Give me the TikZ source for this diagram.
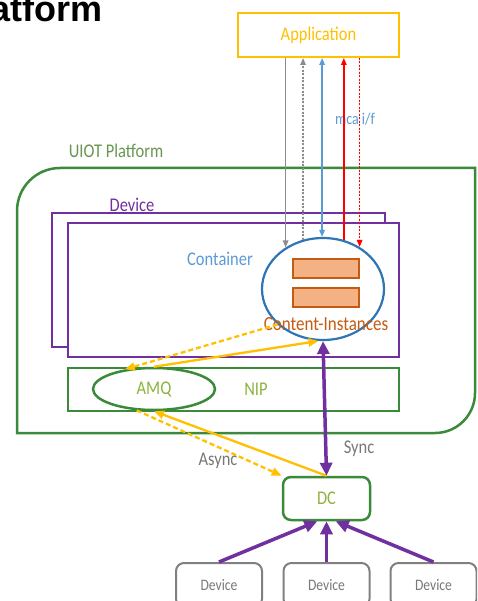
\documentclass[tikz,border=0pt]{standalone}
\usepackage{fontspec}
\setmainfont{Carlito}[FakeStretch=0.85]
\newfontfamily\titlefont{Liberation Sans}
\usetikzlibrary{shapes.geometric,arrows.meta}

\definecolor{appyellow}{RGB}{255,192,0}
\definecolor{platgreen}{RGB}{58,138,58}
\definecolor{labgreen}{RGB}{104,150,80}
\definecolor{txtgreen}{RGB}{140,180,60}
\definecolor{devpurple}{RGB}{112,48,160}
\definecolor{ltblue}{RGB}{91,155,213}
\definecolor{dkblue}{RGB}{46,117,182}
\definecolor{ciorange}{RGB}{197,90,17}
\definecolor{cifill}{RGB}{244,177,131}
\definecolor{midgray}{RGB}{128,128,128}
\definecolor{arrgray}{RGB}{140,140,140}
\definecolor{txtgray}{RGB}{120,120,120}
\definecolor{arrred}{RGB}{255,0,0}

\tikzset{
  lbl/.style={inner sep=0pt, font=\fontsize{19.4}{22}\selectfont},
  smalllbl/.style={inner sep=0pt, font=\fontsize{16.5}{19}\selectfont},
  thin tip/.style={-{Triangle[length=7pt,width=5.5pt]}},
  appline/.style={line width=1.5pt},
  dotline/.style={line width=1.3pt, dash pattern=on 2pt off 1.5pt},
  yelline/.style={draw=appyellow, line width=2.3pt, -{Triangle[length=10pt,width=8pt]}},
  yeldash/.style={yelline, dash pattern=on 5pt off 3pt},
  purpline/.style={draw=devpurple, line width=3.5pt, -{Triangle[length=13pt,width=12pt]}},
  ibox/.style={draw=ciorange, line width=1.5pt, fill=cifill, minimum width=66pt, minimum height=19pt, inner sep=0pt},
  devbox/.style={draw=midgray, line width=2pt, rounded corners=8pt, minimum width=86pt, minimum height=44pt, inner sep=0pt, text=txtgray, font=\fontsize{16}{18}\selectfont},
}

\begin{document}
\begin{tikzpicture}[x=1pt, y=-1pt]
\clip (0,0) rectangle (477,601);
\fill[white] (0,0) rectangle (477,601);

% title, running off the left edge
\node[anchor=base east, inner sep=0pt, font=\titlefont\bfseries\fontsize{36}{40}\selectfont] (title) at (103,22) {Platform};

% UIOT platform frame
\draw[platgreen, line width=2.5pt] (17,433) -- (17,211) arc[start angle=180, end angle=270, radius=43]
  -- (475,168) -- (475,393) arc[start angle=0, end angle=90, radius=40] -- cycle;
\node[lbl, text=labgreen] (uiot) at (116,151) {UIOT Platform};

% stacked device frames
\draw[devpurple, line width=2pt, fill=white] (52,213) rectangle (385,347);
\draw[devpurple, line width=2pt, fill=white] (68,223) rectangle (399,357);
\node[lbl, text=devpurple] (devlbl) at (132,205) {Device};
\node[lbl, text=ltblue] (contlbl) at (220,259) {Container};

% content instances
\node[ellipse, draw=dkblue, line width=2.2pt, minimum width=122pt, minimum height=102pt, inner sep=0pt] (ci) at (323,289) {};
\node[ibox] (inst1) at (326,268.5) {};
\node[ibox] (inst2) at (326,297.5) {};
\node[lbl, text=ciorange, font=\fontsize{20}{22}\selectfont] (cilbl) at (326,324) {Content-Instances};

% NIP with AMQ
\node[draw=platgreen, line width=2.5pt, minimum width=331pt, minimum height=43pt, inner sep=0pt] (nip) at (233.5,389.5) {};
\node[lbl, text=txtgreen] (niplbl) at (256,389) {NIP};
\node[ellipse, draw=platgreen, line width=2.5pt, minimum width=122pt, minimum height=42pt, inner sep=0pt, text=txtgreen, font=\fontsize{19.4}{22}\selectfont] (amq) at (154,389) {AMQ};

% application
\node[draw=appyellow, line width=2pt, minimum width=161pt, minimum height=44pt, inner sep=0pt, text=appyellow, font=\fontsize{19.4}{22}\selectfont] (app) at (318.5,35) {Application};
\node[smalllbl, text=ltblue] (mca) at (355,119) {mca i/f};

% application interface
\draw[appline, draw=arrgray, fill=arrgray, thin tip] (app.south -| ci.132) -- (ci.132);
\draw[dotline, draw=arrgray, fill=arrgray, thin tip] (ci.112) -- (app.south -| ci.112);
\draw[appline, draw=ltblue, fill=ltblue, {Triangle[length=7pt,width=5.5pt]}-{Triangle[length=7pt,width=5.5pt]}] (app.south -| ci.91) -- (ci.91);
\draw[appline, draw=arrred, fill=arrred, thin tip] (ci.67) -- (app.south -| ci.67);
\draw[dotline, draw=arrred, fill=arrred, thin tip] (app.south -| ci.49) -- (ci.49);

% data collector and devices
\node[draw=platgreen, line width=2.5pt, rounded corners=8pt, minimum width=87pt, minimum height=43pt, inner sep=0pt, text=txtgreen, font=\fontsize{19.4}{22}\selectfont] (dc) at (326.5,498.5) {DC};
\node[devbox] (dev1) at (219,585) {Device};
\node[devbox] (dev2) at (326.5,585) {Device};
\node[devbox] (dev3) at (433.5,585) {Device};

% messaging paths
\draw[yeldash] (ci.218) -- (amq.146);
\draw[yelline] (amq.north) -- (ci.265);
\draw[yeldash] (amq.231) -- (dc.north west);
\draw[yelline] (dc.north) -- (amq.south);
\draw[purpline, {Triangle[length=13pt,width=12pt]}-{Triangle[length=13pt,width=12pt]}] (ci.south) -- (dc.north);
\node[lbl, text=txtgray] (sync) at (359,449) {Sync};
\node[lbl, text=txtgray] (async) at (218,461) {Async};

\draw[purpline] (dev1.north) -- (dc.248);
\draw[purpline] (dev2.north) -- (dc.south);
\draw[purpline] (dev3.north) -- (dc.292);
\end{tikzpicture}
\end{document}
